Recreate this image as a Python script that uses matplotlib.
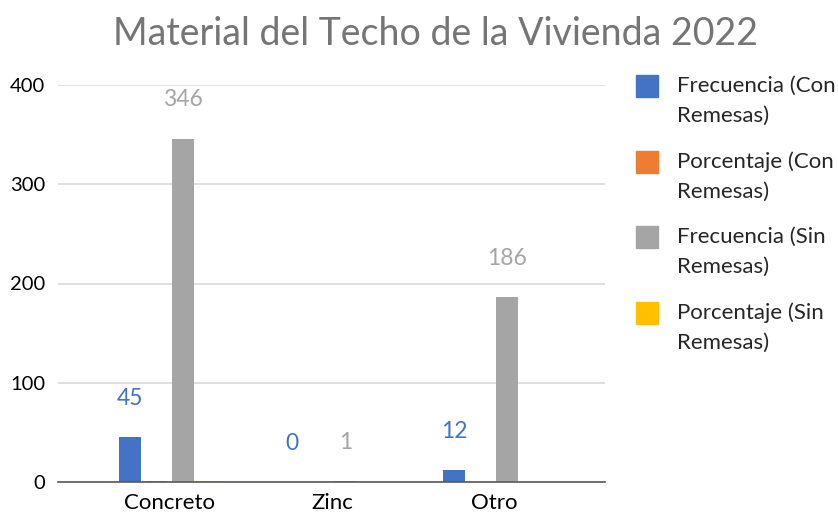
import matplotlib.pyplot as plt
from matplotlib.patches import Rectangle
import numpy as np

plt.rcParams['font.family'] = ['Lato', 'DejaVu Sans']

categories = ['Concreto', 'Zinc', 'Otro']
series_names = ['Frecuencia (Con Remesas)', 'Porcentaje (Con Remesas)',
                'Frecuencia (Sin Remesas)', 'Porcentaje (Sin Remesas)']
freq_con = [45, 0, 12]
pct_con = [0.79, 0.0, 0.21]
freq_sin = [346, 1, 186]
pct_sin = [0.65, 0.002, 0.35]
colors = ['#4472C4', '#ED7D31', '#A5A5A5', '#FFC000']
show_labels = [True, False, True, False]

W, H = 838, 513
fig = plt.figure(figsize=(W / 100, H / 100), dpi=100)
ax = fig.add_axes([58 / W, 1 - 482 / H, (605 - 58) / W, (482 - 85) / H])

x = np.arange(len(categories))
step = 0.165
width = 0.136
all_series = [freq_con, pct_con, freq_sin, pct_sin]
for i, vals in enumerate(all_series):
    offs = (i - 1.5) * step
    ax.bar(x + offs, vals, width, color=colors[i], label=series_names[i], zorder=3)
    if show_labels[i]:
        for xi, v in zip(x + offs, vals):
            ax.annotate(str(v), (xi, v), xytext=(0, 28), textcoords='offset points',
                        ha='center', va='center', fontsize=16.5, color=colors[i])

ax.set_xlim(-0.69, 2.685)
ax.set_ylim(0, 400)
ax.set_yticks([0, 100, 200, 300, 400])
ax.set_xticks(x)
ax.set_xticklabels(categories, fontsize=16)
ax.grid(axis='y', color='#D9D9D9', linewidth=1.2, zorder=0)
for s in ['top', 'right', 'left']:
    ax.spines[s].set_visible(False)
ax.spines['bottom'].set_color('#595959')
ax.spines['bottom'].set_linewidth(1.2)
ax.spines['bottom'].set_zorder(4)
ax.tick_params(axis='both', length=0, colors='black')
ax.tick_params(axis='y', pad=9, labelsize=14.5)
ax.tick_params(axis='x', pad=8)

fig.text(0.52, 1 - 34 / H, 'Material del Techo de la Vivienda 2022', ha='center', va='center',
         fontsize=27, color='#757575')

# legend drawn by hand: square aligned with first text line
for i, name in enumerate(series_names):
    yc = 86 + i * 75.5
    fig.patches.append(Rectangle((636 / W, 1 - (yc + 11) / H), 22 / W, 22 / H,
                                 transform=fig.transFigure, color=colors[i]))
    first, second = name.split(' Remesas')[0], 'Remesas)'
    fig.text(677 / W, 1 - yc / H, first, ha='left', va='center', fontsize=16, color='#262626')
    fig.text(677 / W, 1 - (yc + 30) / H, second, ha='left', va='center', fontsize=16, color='#262626')

fig.savefig('out.png', dpi=100)
